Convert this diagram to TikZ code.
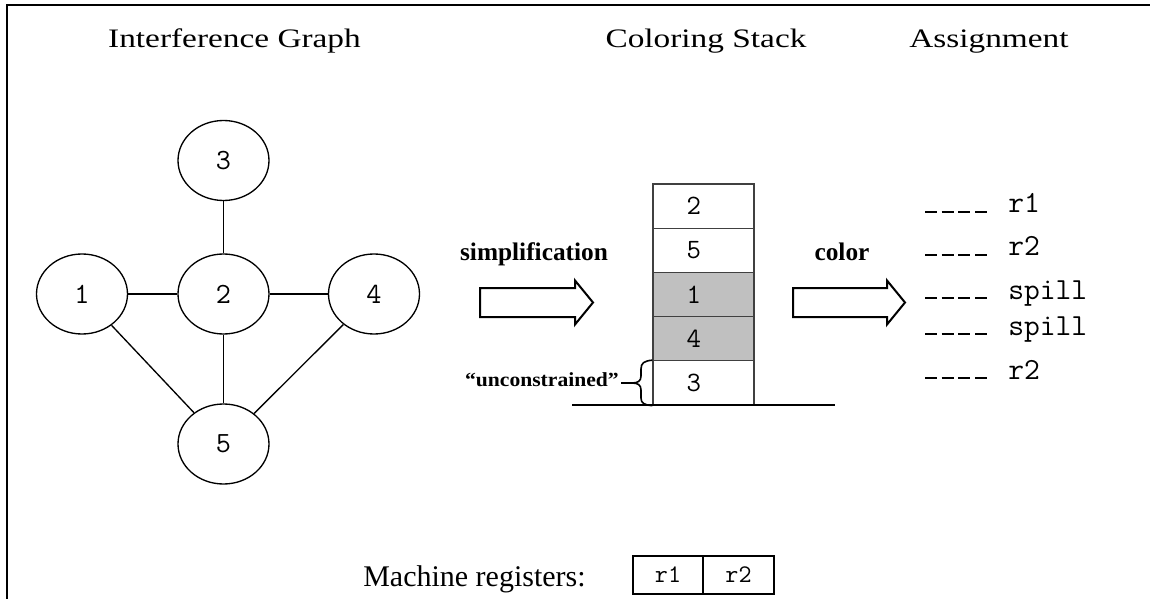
\documentclass[tikz,border=0pt]{standalone}
\usepackage{graphicx}
\usepackage{fontspec}
\setmainfont{Liberation Serif}
\usetikzlibrary{shapes.geometric}

\definecolor{stackline}{HTML}{404040}
\definecolor{spillfill}{HTML}{C0C0C0}

% hollow block arrow: start point, total length (px units)
\newcommand{\blockarrow}[2]{%
  \draw[arrowline] (#1) ++(0,-14.5) -- ++({#2-18},0) -- ++(0,-7.5)
    -- ++(18,22) -- ++(-18,22) -- ++(0,-7.5) -- ++({-(#2-18)},0) -- cycle;}

\begin{document}
\begin{tikzpicture}[x=0.75pt,y=-0.75pt,
  vert/.style={ellipse, draw, line width=1pt, minimum width=68.25pt,
    minimum height=60pt, inner sep=0pt, font=\fontsize{22}{22}\ttfamily},
  edge/.style={line width=1pt},
  title/.style={inner sep=0pt, anchor=base, font=\fontsize{20}{24}\selectfont},
  boldlbl/.style={inner sep=0pt, anchor=base, font=\fontsize{19}{22}\bfseries},
  stackrow/.style={rectangle, draw=stackline, line width=1pt,
    minimum height=33.15pt, text width=25.35pt, align=left, inner xsep=25.2pt,
    inner ysep=0pt, font=\fontsize{21}{21}\ttfamily},
  spillrow/.style={stackrow, fill=spillfill},
  regcell/.style={rectangle, draw, line width=1pt, minimum height=28.5pt,
    inner sep=0pt, font=\fontsize{19}{19}\ttfamily},
  assign/.style={inner sep=0pt, anchor=base west, font=\fontsize{23}{24}\ttfamily},
  regdash/.style={line width=1.9pt, dash pattern=on 9pt off 3.5pt},
  arrowline/.style={line width=1.5pt, line join=miter}
]
\useasboundingbox (0,0) rectangle (1150,599);

% frame
\draw[line width=1.8pt] (7,599) -- (7,5) -- (1150,5);

% headings
\node[title] (tgraph) at (234.5,48) {\scalebox{1.25}[1]{Interference Graph}};
\node[title] (tstack) at (706,48) {\scalebox{1.25}[1]{Coloring Stack}};
\node[title] (tassign) at (989,48) {\scalebox{1.25}[1]{Assignment}};

% interference graph
\node[vert] (n3) at (223.5,160.5) {3};
\node[vert] (n1) at (82,294) {1};
\node[vert] (n2) at (223.5,294) {2};
\node[vert] (n4) at (374,294) {4};
\node[vert] (n5) at (223.5,444) {5};
\draw[edge] (n3) -- (n2);
\draw[edge] (n1) -- (n2);
\draw[edge] (n2) -- (n4);
\draw[edge] (n2) -- (n5);
\draw[edge] (n1) -- (n5);
\draw[edge] (n4) -- (n5);

% simplification step
\node[boldlbl] (lsimp) at (534,261) {simplification};
\coordinate (simpstart) at (480,302.5);
\blockarrow{simpstart}{113}

% coloring stack
\node[stackrow] (s1) at (703.5,206.1) {2};
\node[stackrow] (s2) at (703.5,250.3) {5};
\node[spillrow] (s3) at (703.5,294.5) {1};
\node[spillrow] (s4) at (703.5,338.7) {4};
\node[stackrow] (s5) at (703.5,382.9) {3};
\coordinate (groundL) at (572,405);
\coordinate (groundR) at (835,405);
\draw[line width=1pt] (groundL) -- (groundR);

% brace marking the unconstrained node
\draw[line width=1.2pt]
  (s5.north west) .. controls (644,361) and (641,363) .. (641,369)
  -- (641,376) .. controls (641,381) and (638,383) .. (632,383)
  -- (621,383)
  (632,383) .. controls (638,383) and (641,385) .. (641,390)
  -- (641,398) .. controls (641,403) and (644,405) .. (s5.south west);
\node[inner sep=0pt, anchor=base east, font=\fontsize{15}{18}\bfseries]
  (lunc) at (619,386) {\scalebox{1.08}[1]{“unconstrained”}};

% color step
\node[boldlbl] (lcolor) at (842,261) {color};
\coordinate (colstart) at (793,302.5);
\blockarrow{colstart}{112}

% register assignment
\node[assign] (a1) at (1008,213) {r1};
\node[assign] (a2) at (1008,256) {r2};
\node[assign] (a3) at (1008,299) {spill};
\node[assign] (a4) at (1008,335) {spill};
\node[assign] (a5) at (1008,379) {r2};
\foreach \a in {a1,a2,a3,a4,a5}
  \draw[regdash] ([xshift=-62.25pt,yshift=0.8pt]\a.base west) -- ++(62,0);

% machine registers
\node[inner sep=0pt, anchor=base west, font=\fontsize{22.5}{26}\selectfont]
  (lmach) at (363,586) {Machine registers:};
\node[regcell, minimum width=52.5pt] (r1) at (668,575) {r1};
\node[regcell, minimum width=53.25pt] (r2) at (738.5,575) {r2};

\end{tikzpicture}
\end{document}
